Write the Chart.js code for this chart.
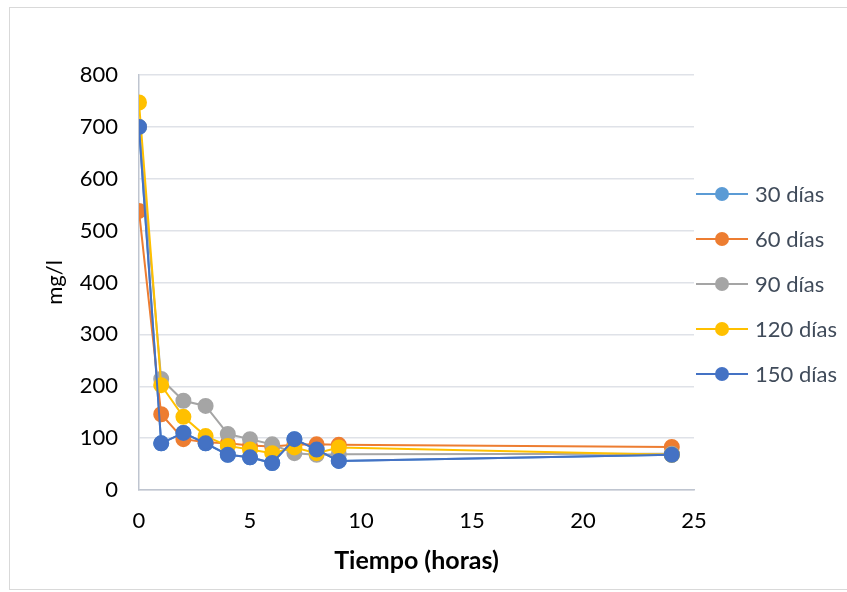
<!DOCTYPE html>
<html>
<head>
<meta charset="utf-8">
<script src="https://cdn.jsdelivr.net/npm/chart.js@4/dist/chart.umd.min.js"></script>
<style>
  html, body { margin: 0; padding: 0; background: #fff; }
  #wrap { width: 847px; height: 592px; position: relative; }
</style>
</head>
<body>
<div id="wrap"><canvas id="grafico"></canvas></div>
<script>
// Tiempo de muestreo (horas)
const horas = [0, 1, 2, 3, 4, 5, 6, 7, 8, 9, 24];

// Concentración (mg/l) por edad de la muestra
const dias30 = [700, 90, 110, 90, 68, 63, 52, 98, 78, 56, 68];
const dias60 = [538, 146, 98, 92, 90, 86, 84, 87, 88, 87, 83];
const dias90 = [700, 214, 172, 162, 108, 98, 88, 71, 68, 69, 70];
const dias120 = [747, 202, 141, 104, 85, 78, 71, 82, 71, 82, 68];
const dias150 = [700, 90, 110, 90, 68, 63, 52, 98, 78, 56, 68];

const etiquetas = ['30 días', '60 días', '90 días', '120 días', '150 días'];
const colores = ['#5B9BD5', '#ED7D31', '#A5A5A5', '#FFC000', '#4472C4'];
const series = [dias30, dias60, dias90, dias120, dias150];

const xTicks = [0, 5, 10, 15, 20, 25];
const yTicks = [0, 100, 200, 300, 400, 500, 600, 700, 800];

const fuente = 'Lato, "Open Sans", sans-serif';

const datasets = series.map((valores, i) => ({
  label: etiquetas[i],
  data: horas.map((h, k) => ({ x: h, y: valores[k] })),
  borderColor: colores[i],
  backgroundColor: colores[i],
  pointBackgroundColor: colores[i],
  pointBorderColor: colores[i],
  pointRadius: 7,
  pointHoverRadius: 7,
  borderWidth: 2,
  showLine: true,
  tension: 0,
  // la última serie queda encima
  order: series.length - i,
}));

// marco del gráfico
const marco = {
  id: 'marco',
  beforeDraw(chart) {
    const { ctx } = chart;
    ctx.save();
    ctx.strokeStyle = '#d9d9d9';
    ctx.lineWidth = 1;
    ctx.strokeRect(9.5, 7.5, 900, 582);
    ctx.restore();
  },
};

// leyenda a la derecha, como en Excel
const leyenda = {
  id: 'leyenda',
  afterDraw(chart) {
    const { ctx } = chart;
    ctx.save();
    ctx.font = '22px ' + fuente;
    ctx.textBaseline = 'middle';
    ctx.textAlign = 'left';
    chart.data.datasets.forEach((ds, i) => {
      const y = 194 + i * 45;
      ctx.strokeStyle = ds.borderColor;
      ctx.lineWidth = 2;
      ctx.beginPath();
      ctx.moveTo(696, y);
      ctx.lineTo(748, y);
      ctx.stroke();
      ctx.fillStyle = ds.borderColor;
      ctx.beginPath();
      ctx.arc(722, y, 7, 0, Math.PI * 2);
      ctx.fill();
      ctx.fillStyle = '#404b5a';
      ctx.fillText(ds.label, 755, y + 1);
    });
    ctx.restore();
  },
};

new Chart(document.getElementById('grafico'), {
  type: 'scatter',
  data: { datasets },
  options: {
    responsive: true,
    maintainAspectRatio: false,
    animation: false,
    layout: { padding: { left: 10, right: 153, top: 75, bottom: 2 } },
    plugins: {
      legend: { display: false },
      tooltip: { enabled: false },
    },
    scales: {
      x: {
        type: 'linear',
        min: 0,
        max: 25,
        afterBuildTicks: (scale) => { scale.ticks = xTicks.map(v => ({ value: v })); },
        afterFit: (scale) => { scale.height = 100; },
        grid: { display: false, drawTicks: false },
        border: { display: true, color: '#bfc5d0', width: 1.5 },
        ticks: { color: '#000', font: { family: fuente, size: 22 }, padding: 18 },
        title: {
          display: true,
          text: 'Tiempo (horas)',
          color: '#000',
          font: { family: fuente, size: 25, weight: 'bold' },
          padding: { top: 0, bottom: 14 },
        },
      },
      y: {
        min: 0,
        max: 800,
        afterBuildTicks: (scale) => { scale.ticks = yTicks.map(v => ({ value: v })); },
        afterFit: (scale) => { scale.width = 129; },
        grid: { color: '#dfe2e8', lineWidth: 1.5, drawTicks: false },
        border: { display: true, color: '#bfc5d0', width: 1.5 },
        ticks: { color: '#000', font: { family: fuente, size: 22 }, padding: 21 },
        title: {
          display: true,
          text: 'mg/l',
          color: '#000',
          font: { family: fuente, size: 22 },
          padding: { top: 32, bottom: 0 },
        },
      },
    },
  },
  plugins: [marco, leyenda],
});
</script>
</body>
</html>
